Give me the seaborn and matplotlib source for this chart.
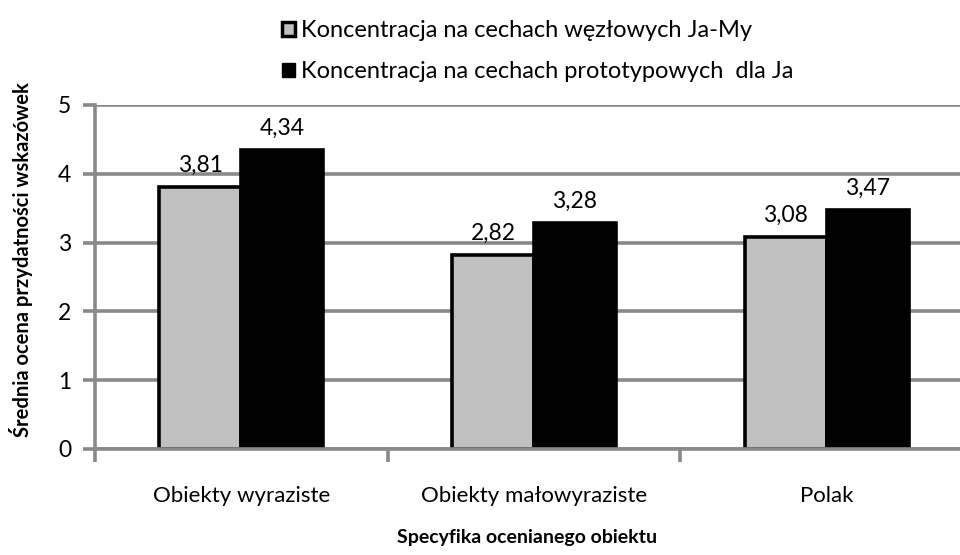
import matplotlib

matplotlib.use("Agg")
import matplotlib.pyplot as plt
import pandas as pd
import seaborn as sns
from matplotlib.patches import Patch
from matplotlib.ticker import FixedLocator

categories = ["Obiekty wyraziste", "Obiekty małowyraziste", "Polak"]
series_names = [
    "Koncentracja na cechach węzłowych Ja-My",
    "Koncentracja na cechach prototypowych  dla Ja",
]
values_wezlowe = [3.81, 2.82, 3.08]
values_prototyp = [4.34, 3.28, 3.47]
y_ticks = [0, 1, 2, 3, 4, 5]

GRID = "#898989"
colors = ["#c0c0c0", "#000000"]


def main():
    sns.set_theme(style="white")
    plt.rcParams["font.family"] = ["Lato", "DejaVu Sans"]
    plt.rcParams["text.color"] = "black"
    plt.rcParams["axes.labelcolor"] = "black"

    df = pd.DataFrame({
        "cat": categories * 2,
        "series": [series_names[0]] * 3 + [series_names[1]] * 3,
        "value": values_wezlowe + values_prototyp,
    })

    fig = plt.figure(figsize=(9.6, 5.55), dpi=100)
    ax = fig.add_axes([0.099, 0.191, 0.901, 0.620])

    sns.barplot(
        data=df, x="cat", y="value", hue="series", order=categories,
        hue_order=series_names, palette=colors, width=0.56, dodge=True,
        edgecolor="black", linewidth=2.6, legend=False, ax=ax, zorder=3,
    )

    for cont in ax.containers:
        labels = [f"{v:.2f}".replace(".", ",") for v in cont.datavalues]
        ax.bar_label(cont, labels=labels, padding=8, fontsize=16.5, color="black")

    ax.set_ylim(0, 5)
    ax.set_xlim(-0.5, 2.456)
    ax.set_yticks(y_ticks)
    ax.yaxis.grid(True, color=GRID, linewidth=2.6, zorder=0)
    ax.set_axisbelow(True)
    for side in ["top", "right", "bottom"]:
        ax.spines[side].set_visible(False)
    ax.spines["left"].set_color(GRID)
    ax.spines["left"].set_linewidth(2.6)
    ax.axhline(0, color=GRID, linewidth=2.6, zorder=4, clip_on=False)

    ax.tick_params(axis="y", which="major", length=9, width=2.6, color=GRID,
                   labelcolor="black", labelsize=16.5, pad=8, left=True)
    ax.tick_params(axis="x", which="major", length=0, labelsize=16, pad=27,
                   labelcolor="black")
    ax.xaxis.set_minor_locator(FixedLocator([-0.5, 0.5, 1.5]))
    ax.tick_params(axis="x", which="minor", length=9, width=2.6, color=GRID,
                   bottom=True)

    ax.set_xlabel("Specyfika ocenianego obiektu", fontsize=14,
                  fontweight="bold", labelpad=16)
    ax.set_ylabel("Średnia ocena przydatności wskazówek", fontsize=14.5,
                  fontweight="bold")
    ax.yaxis.set_label_coords(-0.072, 0.55)

    handles = [
        Patch(facecolor=colors[0], edgecolor="black", linewidth=2.5),
        Patch(facecolor=colors[1], edgecolor="black", linewidth=1),
    ]
    fig.legend(
        handles, series_names, loc="upper left", bbox_to_anchor=(0.273, 1.0),
        frameon=False, fontsize=17, handlelength=0.55, handleheight=0.55,
        handletextpad=0.25, labelspacing=0.85, borderpad=0.35,
    )

    fig.savefig("out.png", dpi=100)
    plt.close(fig)


if __name__ == "__main__":
    main()
